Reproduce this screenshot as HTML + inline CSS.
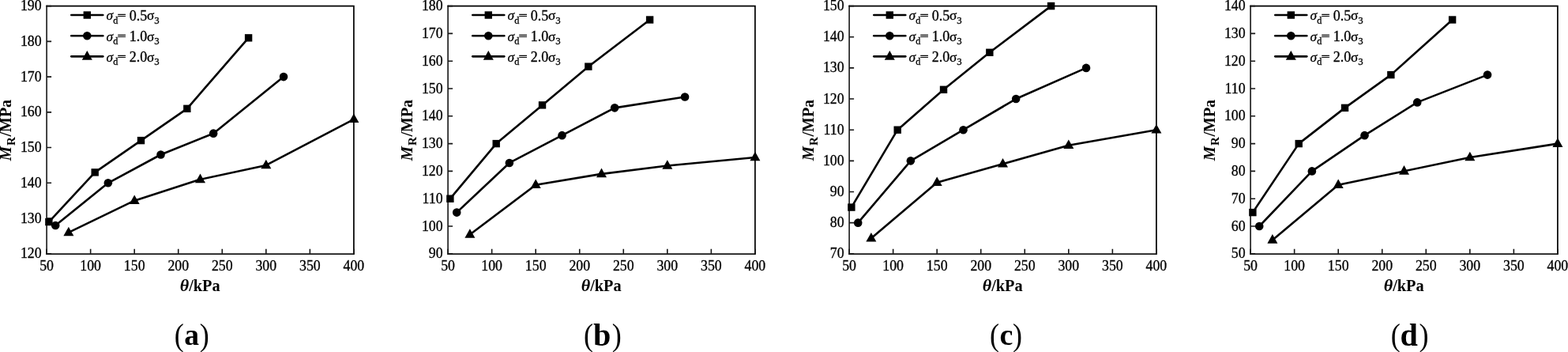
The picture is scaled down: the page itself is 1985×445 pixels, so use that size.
<!DOCTYPE html>
<html lang="en">
<head>
<meta charset="utf-8">
<title>Resilient modulus versus bulk stress</title>
<style>
html,body{margin:0;padding:0;background:#fff;}
body{width:1985px;height:445px;overflow:hidden;}
svg{display:block;}
text{font-family:"Liberation Serif",serif;fill:#000;}
.tk{font-size:17.8px;stroke:#000;stroke-width:0.3px;}
.lab{font-size:20px;font-weight:bold;}
.leg{font-size:17.4px;stroke:#000;stroke-width:0.3px;}
.cap{font-size:41px;}
.ax{stroke:#161616;stroke-width:1.6;fill:none;}
.ax2{stroke:#000;stroke-width:1.7;fill:none;}
.ln{stroke:#000;stroke-width:2.6;fill:none;stroke-linejoin:round;}
.mk{fill:#000;stroke:none;}
</style>
</head>
<body>
<svg width="1985" height="445" viewBox="0 0 1985 445">
<rect x="0" y="0" width="1985" height="445" fill="#fff"/>
<g>
<path class="ax" d="M59.1 6.8V321.9"/>
<path class="ax" d="M58.3 321.05H448.75" style="stroke-width:1.7"/>
<path class="ax2" d="M58.4 7.6H447.9V321.6"/>
<path class="ax" d="M59.1 320.8V314.8M114.64 320.8V314.8M170.19 320.8V314.8M225.73 320.8V314.8M281.27 320.8V314.8M336.81 320.8V314.8M392.36 320.8V314.8M447.9 320.8V314.8M59.1 320.8H65.1M59.1 276.06H65.1M59.1 231.31H65.1M59.1 186.57H65.1M59.1 141.83H65.1M59.1 97.09H65.1M59.1 52.34H65.1M59.1 7.6H65.1"/>
<text class="tk" x="59.1" y="341.8" text-anchor="middle">50</text>
<text class="tk" x="114.64" y="341.8" text-anchor="middle">100</text>
<text class="tk" x="170.19" y="341.8" text-anchor="middle">150</text>
<text class="tk" x="225.73" y="341.8" text-anchor="middle">200</text>
<text class="tk" x="281.27" y="341.8" text-anchor="middle">250</text>
<text class="tk" x="336.81" y="341.8" text-anchor="middle">300</text>
<text class="tk" x="392.36" y="341.8" text-anchor="middle">350</text>
<text class="tk" x="447.9" y="341.8" text-anchor="middle">400</text>
<text class="tk" x="52.6" y="326.3" text-anchor="end">120</text>
<text class="tk" x="52.6" y="281.56" text-anchor="end">130</text>
<text class="tk" x="52.6" y="236.81" text-anchor="end">140</text>
<text class="tk" x="52.6" y="192.07" text-anchor="end">150</text>
<text class="tk" x="52.6" y="147.33" text-anchor="end">160</text>
<text class="tk" x="52.6" y="102.59" text-anchor="end">170</text>
<text class="tk" x="52.6" y="57.84" text-anchor="end">180</text>
<text class="tk" x="52.6" y="13.1" text-anchor="end">190</text>
<text class="lab" transform="translate(239.32 367.6) scale(1.07 1)" text-anchor="end" style="font-style:italic;font-size:20.6px">θ</text><text class="lab" x="278.65" y="367.6" text-anchor="end" style="font-size:20.3px">/kPa</text>
<text class="lab" transform="translate(14.3 125.9) rotate(-90)" text-anchor="end"><tspan font-style="italic" font-size="20.5px">M</tspan><tspan dx="1" dy="4.5" font-size="15px">R</tspan><tspan dx="0.6" dy="-4.5">/MPa</tspan></text>
<polyline class="ln" points="61.88,280.53 120.2,217.89 178.52,177.62 236.84,137.35 314.6,47.87"/>
<rect class="mk" x="57.18" y="275.83" width="9.4" height="9.4"/>
<rect class="mk" x="115.5" y="213.19" width="9.4" height="9.4"/>
<rect class="mk" x="173.82" y="172.92" width="9.4" height="9.4"/>
<rect class="mk" x="232.14" y="132.65" width="9.4" height="9.4"/>
<rect class="mk" x="309.9" y="43.17" width="9.4" height="9.4"/>
<polyline class="ln" points="70.21,285.01 136.86,231.31 203.51,195.52 270.16,168.67 359.03,97.09"/>
<circle class="mk" cx="70.21" cy="285.01" r="5.3"/>
<circle class="mk" cx="136.86" cy="231.31" r="5.3"/>
<circle class="mk" cx="203.51" cy="195.52" r="5.3"/>
<circle class="mk" cx="270.16" cy="168.67" r="5.3"/>
<circle class="mk" cx="359.03" cy="97.09" r="5.3"/>
<polyline class="ln" points="86.87,293.95 170.19,253.69 253.5,226.84 336.81,208.94 447.9,150.78"/>
<polygon class="mk" points="86.87,286.65 80.37,298.25 93.37,298.25"/>
<polygon class="mk" points="170.19,246.39 163.69,257.99 176.69,257.99"/>
<polygon class="mk" points="253.5,219.54 247,231.14 260,231.14"/>
<polygon class="mk" points="336.81,201.64 330.31,213.24 343.31,213.24"/>
<polygon class="mk" points="447.9,143.48 441.4,155.08 454.4,155.08"/>
<path class="ln" stroke-linecap="round" d="M90.3 19.05H130.3"/>
<rect class="mk" x="105.6" y="14.35" width="9.4" height="9.4"/>
<text class="leg" y="25.45"><tspan x="134.6" font-style="italic">σ</tspan><tspan x="143.2" dy="4.6" font-size="12.2px">d</tspan><tspan x="163.8" dy="-4.1" font-size="18px">0.5</tspan><tspan x="185.9" dy="-0.5">σ</tspan><tspan x="195.3" dy="4.6" font-size="12.8px">3</tspan></text><text class="leg" transform="translate(148.8 24) scale(1 0.66)" style="font-size:19px;stroke-width:0.9px">=</text>
<path class="ln" stroke-linecap="round" d="M90.3 45.2H130.3"/>
<circle class="mk" cx="110.3" cy="45.2" r="5.3"/>
<text class="leg" y="51.6"><tspan x="134.6" font-style="italic">σ</tspan><tspan x="143.2" dy="4.6" font-size="12.2px">d</tspan><tspan x="163.8" dy="-4.1" font-size="18px">1.0</tspan><tspan x="185.9" dy="-0.5">σ</tspan><tspan x="195.3" dy="4.6" font-size="12.8px">3</tspan></text><text class="leg" transform="translate(148.8 50.15) scale(1 0.66)" style="font-size:19px;stroke-width:0.9px">=</text>
<path class="ln" stroke-linecap="round" d="M90.3 71.35H130.3"/>
<polygon class="mk" points="110.3,64.05 103.8,75.65 116.8,75.65"/>
<text class="leg" y="77.75"><tspan x="134.6" font-style="italic">σ</tspan><tspan x="143.2" dy="4.6" font-size="12.2px">d</tspan><tspan x="163.8" dy="-4.1" font-size="18px">2.0</tspan><tspan x="185.9" dy="-0.5">σ</tspan><tspan x="195.3" dy="4.6" font-size="12.8px">3</tspan></text><text class="leg" transform="translate(148.8 76.3) scale(1 0.66)" style="font-size:19px;stroke-width:0.9px">=</text>
<text class="cap" transform="translate(220.71 436.9) scale(0.88 1)" style="font-size:41px">(</text><text class="cap" x="233.19" y="436" style="font-size:37.6px;font-weight:bold">a</text><text class="cap" transform="translate(252.64 436.9) scale(0.88 1)" style="font-size:41px">)</text>
</g>
<g>
<path class="ax" d="M567.1 6.8V321.9"/>
<path class="ax" d="M566.3 321.05H956.75" style="stroke-width:1.7"/>
<path class="ax2" d="M566.4 7.6H955.9V321.6"/>
<path class="ax" d="M567.1 320.8V314.8M622.64 320.8V314.8M678.19 320.8V314.8M733.73 320.8V314.8M789.27 320.8V314.8M844.81 320.8V314.8M900.36 320.8V314.8M955.9 320.8V314.8M567.1 320.8H573.1M567.1 286H573.1M567.1 251.2H573.1M567.1 216.4H573.1M567.1 181.6H573.1M567.1 146.8H573.1M567.1 112H573.1M567.1 77.2H573.1M567.1 42.4H573.1M567.1 7.6H573.1"/>
<text class="tk" x="567.1" y="341.8" text-anchor="middle">50</text>
<text class="tk" x="622.64" y="341.8" text-anchor="middle">100</text>
<text class="tk" x="678.19" y="341.8" text-anchor="middle">150</text>
<text class="tk" x="733.73" y="341.8" text-anchor="middle">200</text>
<text class="tk" x="789.27" y="341.8" text-anchor="middle">250</text>
<text class="tk" x="844.81" y="341.8" text-anchor="middle">300</text>
<text class="tk" x="900.36" y="341.8" text-anchor="middle">350</text>
<text class="tk" x="955.9" y="341.8" text-anchor="middle">400</text>
<text class="tk" x="560.6" y="326.3" text-anchor="end">90</text>
<text class="tk" x="560.6" y="291.5" text-anchor="end">100</text>
<text class="tk" x="560.6" y="256.7" text-anchor="end">110</text>
<text class="tk" x="560.6" y="221.9" text-anchor="end">120</text>
<text class="tk" x="560.6" y="187.1" text-anchor="end">130</text>
<text class="tk" x="560.6" y="152.3" text-anchor="end">140</text>
<text class="tk" x="560.6" y="117.5" text-anchor="end">150</text>
<text class="tk" x="560.6" y="82.7" text-anchor="end">160</text>
<text class="tk" x="560.6" y="47.9" text-anchor="end">170</text>
<text class="tk" x="560.6" y="13.1" text-anchor="end">180</text>
<text class="lab" transform="translate(747.32 367.6) scale(1.07 1)" text-anchor="end" style="font-style:italic;font-size:20.6px">θ</text><text class="lab" x="786.65" y="367.6" text-anchor="end" style="font-size:20.3px">/kPa</text>
<text class="lab" transform="translate(522.3 125.9) rotate(-90)" text-anchor="end"><tspan font-style="italic" font-size="20.5px">M</tspan><tspan dx="1" dy="4.5" font-size="15px">R</tspan><tspan dx="0.6" dy="-4.5">/MPa</tspan></text>
<polyline class="ln" points="569.88,251.2 628.2,181.6 686.52,132.88 744.84,84.16 822.6,25"/>
<rect class="mk" x="565.18" y="246.5" width="9.4" height="9.4"/>
<rect class="mk" x="623.5" y="176.9" width="9.4" height="9.4"/>
<rect class="mk" x="681.82" y="128.18" width="9.4" height="9.4"/>
<rect class="mk" x="740.14" y="79.46" width="9.4" height="9.4"/>
<rect class="mk" x="817.9" y="20.3" width="9.4" height="9.4"/>
<polyline class="ln" points="578.21,268.6 644.86,205.96 711.51,171.16 778.16,136.36 867.03,122.44"/>
<circle class="mk" cx="578.21" cy="268.6" r="5.3"/>
<circle class="mk" cx="644.86" cy="205.96" r="5.3"/>
<circle class="mk" cx="711.51" cy="171.16" r="5.3"/>
<circle class="mk" cx="778.16" cy="136.36" r="5.3"/>
<circle class="mk" cx="867.03" cy="122.44" r="5.3"/>
<polyline class="ln" points="594.87,296.44 678.19,233.8 761.5,219.88 844.81,209.44 955.9,199"/>
<polygon class="mk" points="594.87,289.14 588.37,300.74 601.37,300.74"/>
<polygon class="mk" points="678.19,226.5 671.69,238.1 684.69,238.1"/>
<polygon class="mk" points="761.5,212.58 755,224.18 768,224.18"/>
<polygon class="mk" points="844.81,202.14 838.31,213.74 851.31,213.74"/>
<polygon class="mk" points="955.9,191.7 949.4,203.3 962.4,203.3"/>
<path class="ln" stroke-linecap="round" d="M598.3 19.05H638.3"/>
<rect class="mk" x="613.6" y="14.35" width="9.4" height="9.4"/>
<text class="leg" y="25.45"><tspan x="642.6" font-style="italic">σ</tspan><tspan x="651.2" dy="4.6" font-size="12.2px">d</tspan><tspan x="671.8" dy="-4.1" font-size="18px">0.5</tspan><tspan x="693.9" dy="-0.5">σ</tspan><tspan x="703.3" dy="4.6" font-size="12.8px">3</tspan></text><text class="leg" transform="translate(656.8 24) scale(1 0.66)" style="font-size:19px;stroke-width:0.9px">=</text>
<path class="ln" stroke-linecap="round" d="M598.3 45.2H638.3"/>
<circle class="mk" cx="618.3" cy="45.2" r="5.3"/>
<text class="leg" y="51.6"><tspan x="642.6" font-style="italic">σ</tspan><tspan x="651.2" dy="4.6" font-size="12.2px">d</tspan><tspan x="671.8" dy="-4.1" font-size="18px">1.0</tspan><tspan x="693.9" dy="-0.5">σ</tspan><tspan x="703.3" dy="4.6" font-size="12.8px">3</tspan></text><text class="leg" transform="translate(656.8 50.15) scale(1 0.66)" style="font-size:19px;stroke-width:0.9px">=</text>
<path class="ln" stroke-linecap="round" d="M598.3 71.35H638.3"/>
<polygon class="mk" points="618.3,64.05 611.8,75.65 624.8,75.65"/>
<text class="leg" y="77.75"><tspan x="642.6" font-style="italic">σ</tspan><tspan x="651.2" dy="4.6" font-size="12.2px">d</tspan><tspan x="671.8" dy="-4.1" font-size="18px">2.0</tspan><tspan x="693.9" dy="-0.5">σ</tspan><tspan x="703.3" dy="4.6" font-size="12.8px">3</tspan></text><text class="leg" transform="translate(656.8 76.3) scale(1 0.66)" style="font-size:19px;stroke-width:0.9px">=</text>
<text class="cap" transform="translate(739.01 436.9) scale(0.88 1)" style="font-size:41px">(</text><text class="cap" x="750.89" y="437" style="font-size:40.2px;font-weight:bold">b</text><text class="cap" transform="translate(774.84 436.9) scale(0.88 1)" style="font-size:41px">)</text>
</g>
<g>
<path class="ax" d="M1075.1 6.8V321.9"/>
<path class="ax" d="M1074.3 321.05H1464.75" style="stroke-width:1.7"/>
<path class="ax2" d="M1074.4 7.6H1463.9V321.6"/>
<path class="ax" d="M1075.1 320.8V314.8M1130.64 320.8V314.8M1186.19 320.8V314.8M1241.73 320.8V314.8M1297.27 320.8V314.8M1352.81 320.8V314.8M1408.36 320.8V314.8M1463.9 320.8V314.8M1075.1 320.8H1081.1M1075.1 281.65H1081.1M1075.1 242.5H1081.1M1075.1 203.35H1081.1M1075.1 164.2H1081.1M1075.1 125.05H1081.1M1075.1 85.9H1081.1M1075.1 46.75H1081.1M1075.1 7.6H1081.1"/>
<text class="tk" x="1075.1" y="341.8" text-anchor="middle">50</text>
<text class="tk" x="1130.64" y="341.8" text-anchor="middle">100</text>
<text class="tk" x="1186.19" y="341.8" text-anchor="middle">150</text>
<text class="tk" x="1241.73" y="341.8" text-anchor="middle">200</text>
<text class="tk" x="1297.27" y="341.8" text-anchor="middle">250</text>
<text class="tk" x="1352.81" y="341.8" text-anchor="middle">300</text>
<text class="tk" x="1408.36" y="341.8" text-anchor="middle">350</text>
<text class="tk" x="1463.9" y="341.8" text-anchor="middle">400</text>
<text class="tk" x="1068.6" y="326.3" text-anchor="end">70</text>
<text class="tk" x="1068.6" y="287.15" text-anchor="end">80</text>
<text class="tk" x="1068.6" y="248" text-anchor="end">90</text>
<text class="tk" x="1068.6" y="208.85" text-anchor="end">100</text>
<text class="tk" x="1068.6" y="169.7" text-anchor="end">110</text>
<text class="tk" x="1068.6" y="130.55" text-anchor="end">120</text>
<text class="tk" x="1068.6" y="91.4" text-anchor="end">130</text>
<text class="tk" x="1068.6" y="52.25" text-anchor="end">140</text>
<text class="tk" x="1068.6" y="13.1" text-anchor="end">150</text>
<text class="lab" transform="translate(1255.32 367.6) scale(1.07 1)" text-anchor="end" style="font-style:italic;font-size:20.6px">θ</text><text class="lab" x="1294.65" y="367.6" text-anchor="end" style="font-size:20.3px">/kPa</text>
<text class="lab" transform="translate(1030.3 125.9) rotate(-90)" text-anchor="end"><tspan font-style="italic" font-size="20.5px">M</tspan><tspan dx="1" dy="4.5" font-size="15px">R</tspan><tspan dx="0.6" dy="-4.5">/MPa</tspan></text>
<polyline class="ln" points="1077.88,262.08 1136.2,164.2 1194.52,113.31 1252.84,66.33 1330.6,7.6"/>
<rect class="mk" x="1073.18" y="257.38" width="9.4" height="9.4"/>
<rect class="mk" x="1131.5" y="159.5" width="9.4" height="9.4"/>
<rect class="mk" x="1189.82" y="108.61" width="9.4" height="9.4"/>
<rect class="mk" x="1248.14" y="61.63" width="9.4" height="9.4"/>
<rect class="mk" x="1325.9" y="2.9" width="9.4" height="9.4"/>
<polyline class="ln" points="1086.21,281.65 1152.86,203.35 1219.51,164.2 1286.16,125.05 1375.03,85.9"/>
<circle class="mk" cx="1086.21" cy="281.65" r="5.3"/>
<circle class="mk" cx="1152.86" cy="203.35" r="5.3"/>
<circle class="mk" cx="1219.51" cy="164.2" r="5.3"/>
<circle class="mk" cx="1286.16" cy="125.05" r="5.3"/>
<circle class="mk" cx="1375.03" cy="85.9" r="5.3"/>
<polyline class="ln" points="1102.87,301.23 1186.19,230.76 1269.5,207.27 1352.81,183.78 1463.9,164.2"/>
<polygon class="mk" points="1102.87,293.93 1096.37,305.53 1109.37,305.53"/>
<polygon class="mk" points="1186.19,223.46 1179.69,235.06 1192.69,235.06"/>
<polygon class="mk" points="1269.5,199.97 1263,211.57 1276,211.57"/>
<polygon class="mk" points="1352.81,176.47 1346.31,188.08 1359.31,188.08"/>
<polygon class="mk" points="1463.9,156.9 1457.4,168.5 1470.4,168.5"/>
<path class="ln" stroke-linecap="round" d="M1106.3 19.05H1146.3"/>
<rect class="mk" x="1121.6" y="14.35" width="9.4" height="9.4"/>
<text class="leg" y="25.45"><tspan x="1150.6" font-style="italic">σ</tspan><tspan x="1159.2" dy="4.6" font-size="12.2px">d</tspan><tspan x="1179.8" dy="-4.1" font-size="18px">0.5</tspan><tspan x="1201.9" dy="-0.5">σ</tspan><tspan x="1211.3" dy="4.6" font-size="12.8px">3</tspan></text><text class="leg" transform="translate(1164.8 24) scale(1 0.66)" style="font-size:19px;stroke-width:0.9px">=</text>
<path class="ln" stroke-linecap="round" d="M1106.3 45.2H1146.3"/>
<circle class="mk" cx="1126.3" cy="45.2" r="5.3"/>
<text class="leg" y="51.6"><tspan x="1150.6" font-style="italic">σ</tspan><tspan x="1159.2" dy="4.6" font-size="12.2px">d</tspan><tspan x="1179.8" dy="-4.1" font-size="18px">1.0</tspan><tspan x="1201.9" dy="-0.5">σ</tspan><tspan x="1211.3" dy="4.6" font-size="12.8px">3</tspan></text><text class="leg" transform="translate(1164.8 50.15) scale(1 0.66)" style="font-size:19px;stroke-width:0.9px">=</text>
<path class="ln" stroke-linecap="round" d="M1106.3 71.35H1146.3"/>
<polygon class="mk" points="1126.3,64.05 1119.8,75.65 1132.8,75.65"/>
<text class="leg" y="77.75"><tspan x="1150.6" font-style="italic">σ</tspan><tspan x="1159.2" dy="4.6" font-size="12.2px">d</tspan><tspan x="1179.8" dy="-4.1" font-size="18px">2.0</tspan><tspan x="1201.9" dy="-0.5">σ</tspan><tspan x="1211.3" dy="4.6" font-size="12.8px">3</tspan></text><text class="leg" transform="translate(1164.8 76.3) scale(1 0.66)" style="font-size:19px;stroke-width:0.9px">=</text>
<text class="cap" transform="translate(1253.01 436.9) scale(0.88 1)" style="font-size:41px">(</text><text class="cap" x="1265.6" y="436" style="font-size:38px;font-weight:bold">c</text><text class="cap" transform="translate(1282.04 436.9) scale(0.88 1)" style="font-size:41px">)</text>
</g>
<g>
<path class="ax" d="M1583.1 6.8V321.9"/>
<path class="ax" d="M1582.3 321.05H1972.75" style="stroke-width:1.7"/>
<path class="ax2" d="M1582.4 7.6H1971.9V321.6"/>
<path class="ax" d="M1583.1 320.8V314.8M1638.64 320.8V314.8M1694.19 320.8V314.8M1749.73 320.8V314.8M1805.27 320.8V314.8M1860.81 320.8V314.8M1916.36 320.8V314.8M1971.9 320.8V314.8M1583.1 320.8H1589.1M1583.1 286H1589.1M1583.1 251.2H1589.1M1583.1 216.4H1589.1M1583.1 181.6H1589.1M1583.1 146.8H1589.1M1583.1 112H1589.1M1583.1 77.2H1589.1M1583.1 42.4H1589.1M1583.1 7.6H1589.1"/>
<text class="tk" x="1583.1" y="341.8" text-anchor="middle">50</text>
<text class="tk" x="1638.64" y="341.8" text-anchor="middle">100</text>
<text class="tk" x="1694.19" y="341.8" text-anchor="middle">150</text>
<text class="tk" x="1749.73" y="341.8" text-anchor="middle">200</text>
<text class="tk" x="1805.27" y="341.8" text-anchor="middle">250</text>
<text class="tk" x="1860.81" y="341.8" text-anchor="middle">300</text>
<text class="tk" x="1916.36" y="341.8" text-anchor="middle">350</text>
<text class="tk" x="1971.9" y="341.8" text-anchor="middle">400</text>
<text class="tk" x="1576.6" y="326.3" text-anchor="end">50</text>
<text class="tk" x="1576.6" y="291.5" text-anchor="end">60</text>
<text class="tk" x="1576.6" y="256.7" text-anchor="end">70</text>
<text class="tk" x="1576.6" y="221.9" text-anchor="end">80</text>
<text class="tk" x="1576.6" y="187.1" text-anchor="end">90</text>
<text class="tk" x="1576.6" y="152.3" text-anchor="end">100</text>
<text class="tk" x="1576.6" y="117.5" text-anchor="end">110</text>
<text class="tk" x="1576.6" y="82.7" text-anchor="end">120</text>
<text class="tk" x="1576.6" y="47.9" text-anchor="end">130</text>
<text class="tk" x="1576.6" y="13.1" text-anchor="end">140</text>
<text class="lab" transform="translate(1763.32 367.6) scale(1.07 1)" text-anchor="end" style="font-style:italic;font-size:20.6px">θ</text><text class="lab" x="1802.65" y="367.6" text-anchor="end" style="font-size:20.3px">/kPa</text>
<text class="lab" transform="translate(1538.3 125.9) rotate(-90)" text-anchor="end"><tspan font-style="italic" font-size="20.5px">M</tspan><tspan dx="1" dy="4.5" font-size="15px">R</tspan><tspan dx="0.6" dy="-4.5">/MPa</tspan></text>
<polyline class="ln" points="1585.88,268.6 1644.2,181.6 1702.52,136.36 1760.84,94.6 1838.6,25"/>
<rect class="mk" x="1581.18" y="263.9" width="9.4" height="9.4"/>
<rect class="mk" x="1639.5" y="176.9" width="9.4" height="9.4"/>
<rect class="mk" x="1697.82" y="131.66" width="9.4" height="9.4"/>
<rect class="mk" x="1756.14" y="89.9" width="9.4" height="9.4"/>
<rect class="mk" x="1833.9" y="20.3" width="9.4" height="9.4"/>
<polyline class="ln" points="1594.21,286 1660.86,216.4 1727.51,171.16 1794.16,129.4 1883.03,94.6"/>
<circle class="mk" cx="1594.21" cy="286" r="5.3"/>
<circle class="mk" cx="1660.86" cy="216.4" r="5.3"/>
<circle class="mk" cx="1727.51" cy="171.16" r="5.3"/>
<circle class="mk" cx="1794.16" cy="129.4" r="5.3"/>
<circle class="mk" cx="1883.03" cy="94.6" r="5.3"/>
<polyline class="ln" points="1610.87,303.4 1694.19,233.8 1777.5,216.4 1860.81,199 1971.9,181.6"/>
<polygon class="mk" points="1610.87,296.1 1604.37,307.7 1617.37,307.7"/>
<polygon class="mk" points="1694.19,226.5 1687.69,238.1 1700.69,238.1"/>
<polygon class="mk" points="1777.5,209.1 1771,220.7 1784,220.7"/>
<polygon class="mk" points="1860.81,191.7 1854.31,203.3 1867.31,203.3"/>
<polygon class="mk" points="1971.9,174.3 1965.4,185.9 1978.4,185.9"/>
<path class="ln" stroke-linecap="round" d="M1614.3 19.05H1654.3"/>
<rect class="mk" x="1629.6" y="14.35" width="9.4" height="9.4"/>
<text class="leg" y="25.45"><tspan x="1658.6" font-style="italic">σ</tspan><tspan x="1667.2" dy="4.6" font-size="12.2px">d</tspan><tspan x="1687.8" dy="-4.1" font-size="18px">0.5</tspan><tspan x="1709.9" dy="-0.5">σ</tspan><tspan x="1719.3" dy="4.6" font-size="12.8px">3</tspan></text><text class="leg" transform="translate(1672.8 24) scale(1 0.66)" style="font-size:19px;stroke-width:0.9px">=</text>
<path class="ln" stroke-linecap="round" d="M1614.3 45.2H1654.3"/>
<circle class="mk" cx="1634.3" cy="45.2" r="5.3"/>
<text class="leg" y="51.6"><tspan x="1658.6" font-style="italic">σ</tspan><tspan x="1667.2" dy="4.6" font-size="12.2px">d</tspan><tspan x="1687.8" dy="-4.1" font-size="18px">1.0</tspan><tspan x="1709.9" dy="-0.5">σ</tspan><tspan x="1719.3" dy="4.6" font-size="12.8px">3</tspan></text><text class="leg" transform="translate(1672.8 50.15) scale(1 0.66)" style="font-size:19px;stroke-width:0.9px">=</text>
<path class="ln" stroke-linecap="round" d="M1614.3 71.35H1654.3"/>
<polygon class="mk" points="1634.3,64.05 1627.8,75.65 1640.8,75.65"/>
<text class="leg" y="77.75"><tspan x="1658.6" font-style="italic">σ</tspan><tspan x="1667.2" dy="4.6" font-size="12.2px">d</tspan><tspan x="1687.8" dy="-4.1" font-size="18px">2.0</tspan><tspan x="1709.9" dy="-0.5">σ</tspan><tspan x="1719.3" dy="4.6" font-size="12.8px">3</tspan></text><text class="leg" transform="translate(1672.8 76.3) scale(1 0.66)" style="font-size:19px;stroke-width:0.9px">=</text>
<text class="cap" transform="translate(1760.71 436.9) scale(0.88 1)" style="font-size:41px">(</text><text class="cap" x="1772.57" y="437" style="font-size:40.2px;font-weight:bold">d</text><text class="cap" transform="translate(1796.54 436.9) scale(0.88 1)" style="font-size:41px">)</text>
</g>
</svg>
</body>
</html>
